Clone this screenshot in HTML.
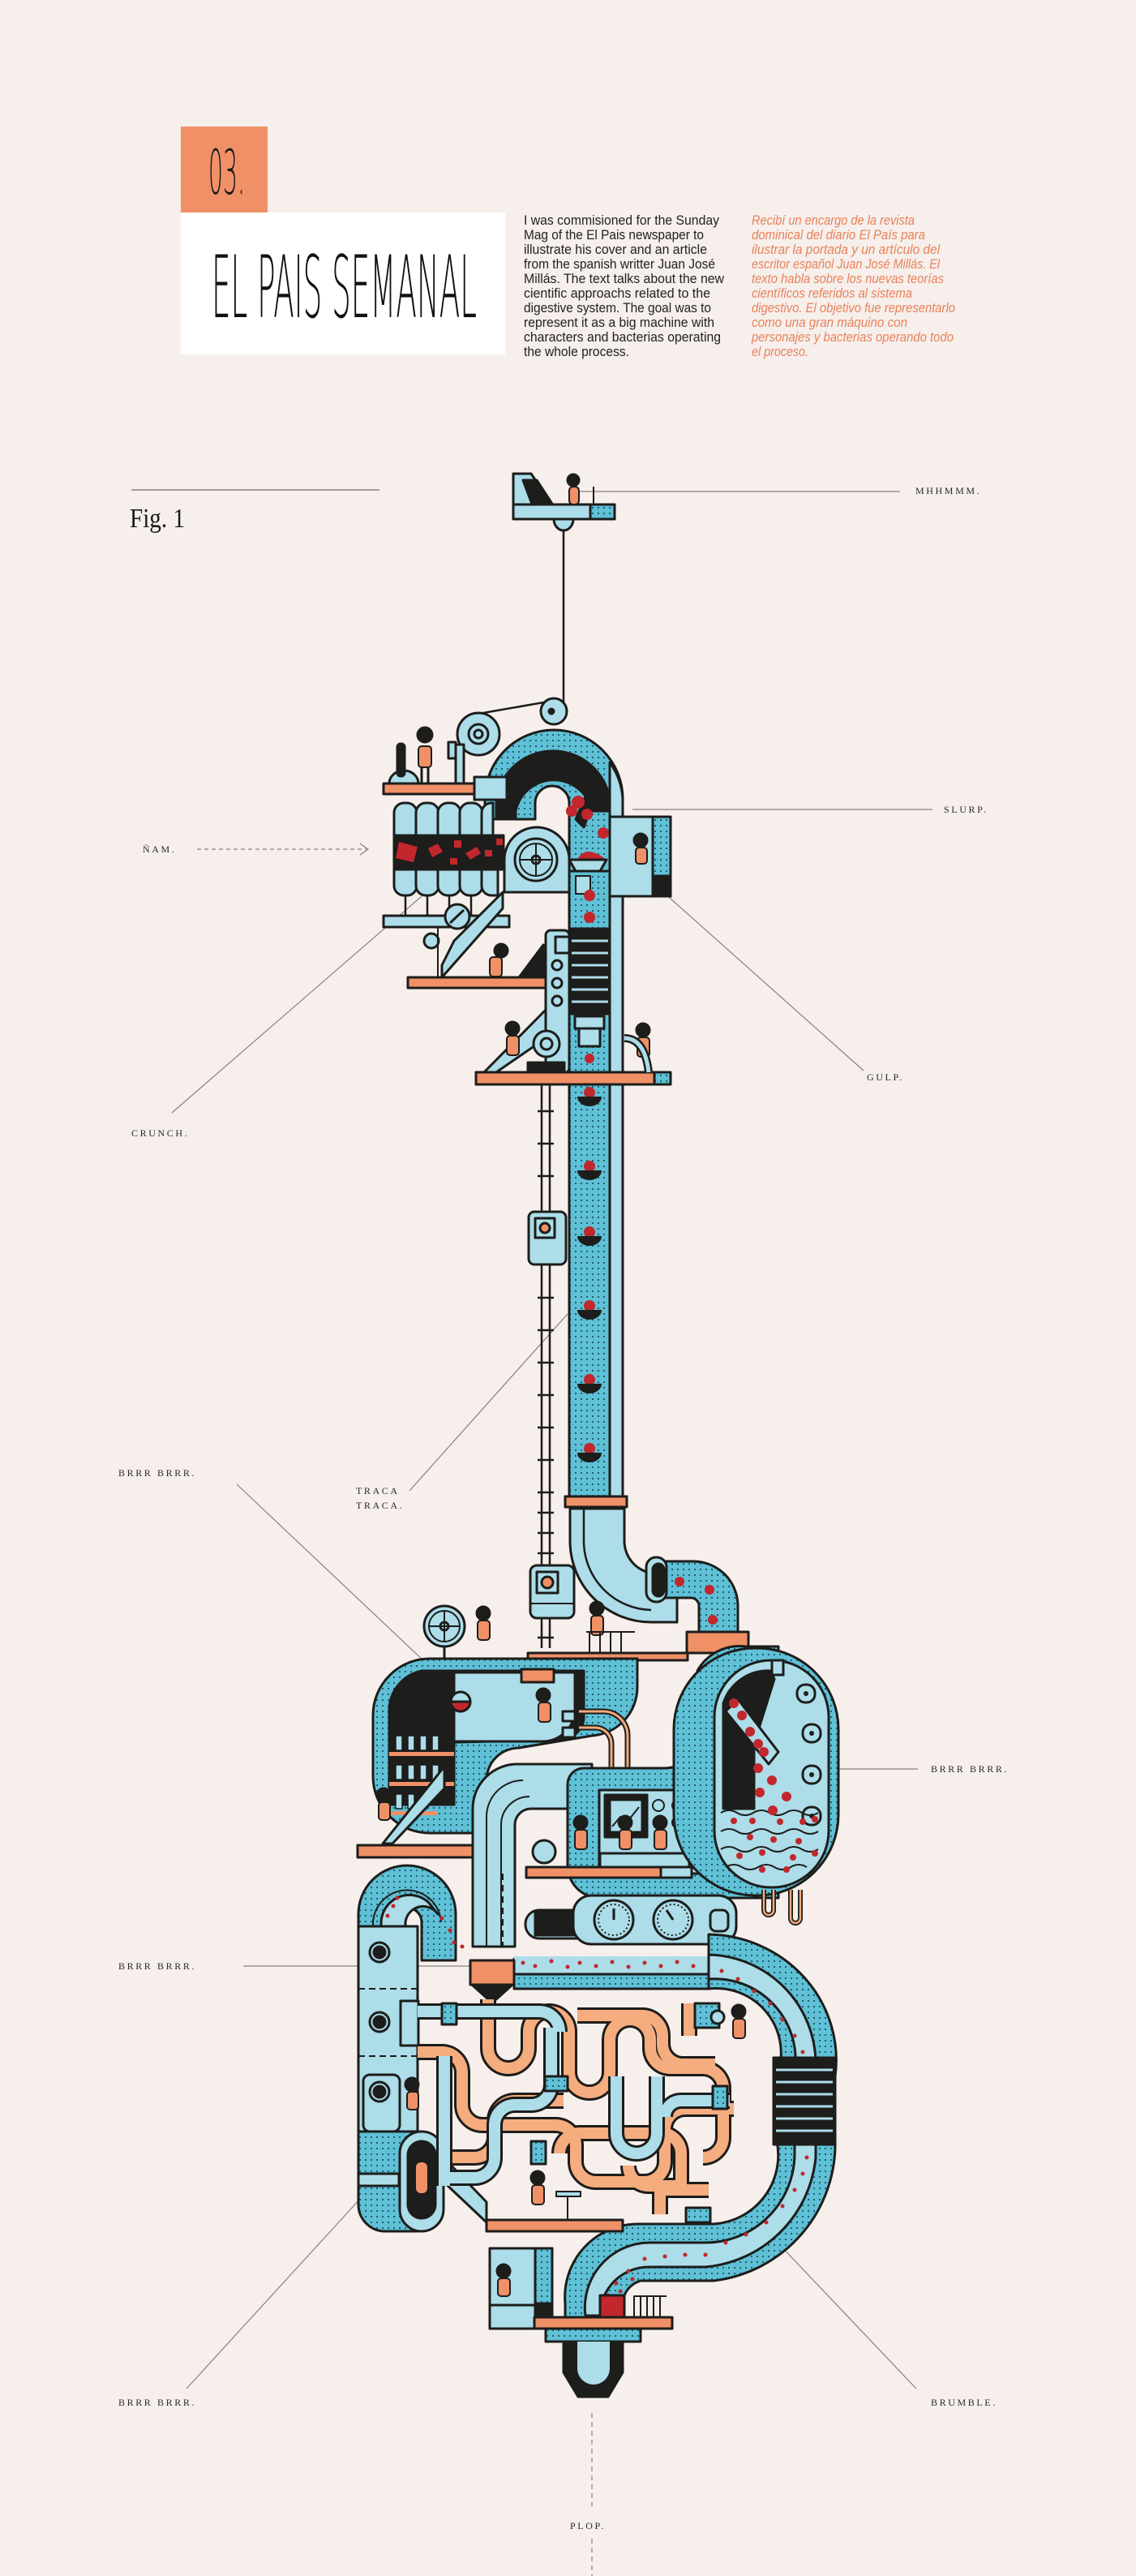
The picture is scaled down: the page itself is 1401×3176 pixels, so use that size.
<!DOCTYPE html>
<html><head><meta charset="utf-8">
<style>
html,body{margin:0;padding:0;background:#f6efeb;}
svg{display:block;}
.lbl{font-family:"Liberation Serif",serif;font-size:12px;letter-spacing:2.6px;fill:#2a2a2a;}
</style></head>
<body>
<svg width="1401" height="3176" viewBox="0 0 1401 3176" xmlns="http://www.w3.org/2000/svg">
<defs>
<pattern id="dot" width="7" height="7" patternUnits="userSpaceOnUse">
<rect width="7" height="7" fill="#5fc0d6"/><rect x="2" y="2" width="2" height="2" fill="#1f5f6e"/>
</pattern>
</defs>
<rect width="1401" height="3176" fill="#f6efeb"/>

<!-- HEADER -->
<rect x="223" y="156" width="107" height="106" fill="#f09067"/>
<text x="257" y="239" font-family="DejaVu Sans, Liberation Sans, sans-serif" font-weight="200" font-size="76" textLength="45" lengthAdjust="spacingAndGlyphs" fill="#1a1a1a">03.</text>
<rect x="223" y="262" width="400" height="175" fill="#ffffff"/>
<text x="261" y="391" font-family="DejaVu Sans, Liberation Sans, sans-serif" font-weight="200" font-size="106" textLength="327" lengthAdjust="spacingAndGlyphs" fill="#111">EL PAIS SEMANAL</text>

<g font-family="Liberation Sans, sans-serif" font-size="17" fill="#222">
<text x="646" y="277" textLength="241" lengthAdjust="spacingAndGlyphs">I was commisioned for the Sunday</text>
<text x="646" y="295" textLength="222" lengthAdjust="spacingAndGlyphs">Mag of the El Pais newspaper to</text>
<text x="646" y="313" textLength="226" lengthAdjust="spacingAndGlyphs">illustrate his cover and an article</text>
<text x="646" y="331" textLength="236" lengthAdjust="spacingAndGlyphs">from the spanish writter Juan José</text>
<text x="646" y="349" textLength="247" lengthAdjust="spacingAndGlyphs">Millás. The text talks about the new</text>
<text x="646" y="367" textLength="230" lengthAdjust="spacingAndGlyphs">cientific approachs related to the</text>
<text x="646" y="385" textLength="231" lengthAdjust="spacingAndGlyphs">digestive system. The goal was to</text>
<text x="646" y="403" textLength="235" lengthAdjust="spacingAndGlyphs">represent it as a big machine with</text>
<text x="646" y="421" textLength="243" lengthAdjust="spacingAndGlyphs">characters and bacterias operating</text>
<text x="646" y="439" textLength="130" lengthAdjust="spacingAndGlyphs">the whole process.</text>
</g>
<g font-family="Liberation Sans, sans-serif" font-size="17" font-style="italic" fill="#e8825a">
<text x="927" y="277" textLength="201" lengthAdjust="spacingAndGlyphs">Recibí un encargo de la revista</text>
<text x="927" y="295" textLength="214" lengthAdjust="spacingAndGlyphs">dominical del diario El País para</text>
<text x="927" y="313" textLength="232" lengthAdjust="spacingAndGlyphs">ilustrar la portada y un artículo del</text>
<text x="927" y="331" textLength="232" lengthAdjust="spacingAndGlyphs">escritor español Juan José Millás. El</text>
<text x="927" y="349" textLength="237" lengthAdjust="spacingAndGlyphs">texto habla sobre los nuevas teorías</text>
<text x="927" y="367" textLength="198" lengthAdjust="spacingAndGlyphs">científicos referidos al sistema</text>
<text x="927" y="385" textLength="251" lengthAdjust="spacingAndGlyphs">digestivo. El objetivo fue representarlo</text>
<text x="927" y="403" textLength="192" lengthAdjust="spacingAndGlyphs">como una gran máquino con</text>
<text x="927" y="421" textLength="249" lengthAdjust="spacingAndGlyphs">personajes y bacterias operando todo</text>
<text x="927" y="439" textLength="70" lengthAdjust="spacingAndGlyphs">el proceso.</text>
</g>

<!-- Fig 1 -->
<line x1="162" y1="604" x2="468" y2="604" stroke="#8a807b" stroke-width="1.5"/>
<text x="160" y="650" font-family="Liberation Serif, serif" font-size="34" textLength="68" lengthAdjust="spacingAndGlyphs" fill="#1a1a1a">Fig. 1</text>

<!-- label lines -->
<g stroke="#8a807b" stroke-width="1.2" fill="none">
<line x1="700" y1="606" x2="1110" y2="606"/>
<line x1="243" y1="1047" x2="452" y2="1047" stroke-dasharray="5,4"/>
<polyline points="444,1040 454,1047 444,1054"/>
<line x1="780" y1="998" x2="1150" y2="998"/>
<line x1="1065" y1="1320" x2="790" y2="1075"/>
<line x1="212" y1="1372" x2="520" y2="1105"/>
<line x1="505" y1="1838" x2="700" y2="1620"/>
<line x1="292" y1="1830" x2="525" y2="2050"/>
<line x1="1000" y1="2181" x2="1132" y2="2181"/>
<line x1="300" y1="2424" x2="605" y2="2424"/>
<line x1="230" y1="2945" x2="445" y2="2710"/>
<line x1="1130" y1="2945" x2="940" y2="2745"/>
<line x1="730" y1="2975" x2="730" y2="3090" stroke-dasharray="6,5"/>
<line x1="730" y1="3130" x2="730" y2="3176" stroke-dasharray="6,5"/>
</g>
<g class="lbl">
<text x="1129" y="609">MHHMMM.</text>
<text x="176" y="1051">ÑAM.</text>
<text x="1164" y="1002">SLURP.</text>
<text x="1069" y="1332">GULP.</text>
<text x="162" y="1401">CRUNCH.</text>
<text x="439" y="1842">TRACA</text>
<text x="439" y="1860">TRACA.</text>
<text x="146" y="1820">BRRR BRRR.</text>
<text x="1148" y="2185">BRRR BRRR.</text>
<text x="146" y="2428">BRRR BRRR.</text>
<text x="146" y="2966">BRRR BRRR.</text>
<text x="1148" y="2966">BRUMBLE.</text>
<text x="703" y="3118">PLOP.</text>
</g>

<g stroke="#1d1d1b" stroke-width="3" stroke-linejoin="round">
<!-- TOP CONSOLE -->
<line x1="695" y1="640" x2="695" y2="870" stroke-width="2.5"/>
<path d="M683 640 a12 14 0 0 0 24 0z" fill="#acdde9"/>
<polygon points="633,584 655,584 690,636 633,636" fill="#acdde9"/>
<polygon points="645,592 662,592 688,632 660,632" fill="#1d1d1b"/>
<rect x="633" y="622" width="125" height="18" fill="#acdde9"/>
<rect x="728" y="622" width="30" height="18" fill="url(#dot)"/>
<circle cx="707" cy="592" r="7" fill="#1d1d1b"/>
<rect x="702" y="600" width="12" height="22" rx="5" fill="#f09067" stroke-width="2"/>
<line x1="732" y1="600" x2="732" y2="622" stroke-width="2"/>
<line x1="590" y1="880" x2="682" y2="864" stroke-width="2.5"/>
<circle cx="683" cy="877" r="16" fill="#acdde9"/><circle cx="680" cy="877" r="3" fill="#1d1d1b"/>

<!-- TOP SECTION -->
<path d="M598 1010 L598 985 A85 85 0 0 1 768 985 L768 1120 L702 1120 L702 990 A20 20 0 0 0 660 990 L660 1010 Z" fill="url(#dot)"/>
<path d="M612 985 A71 71 0 0 1 752 985 L752 1000 L730 1000 A48 48 0 0 0 636 1000 L636 1010 L612 1010Z" fill="#1d1d1b"/>
<path d="M752 1000 L752 1110 L768 1110 L768 985 A85 85 0 0 0 752 940Z" fill="#acdde9"/>
<path d="M710 1010 L725 975 L735 980 L720 1020Z" fill="#1d1d1b"/>
<circle cx="713" cy="989" r="8" fill="#c1272d" stroke="none"/>
<circle cx="724" cy="1004" r="7" fill="#c1272d" stroke="none"/>
<circle cx="705" cy="1000" r="7" fill="#c1272d" stroke="none"/>
<circle cx="744" cy="1027" r="7" fill="#c1272d" stroke="none"/>
<path d="M712 1060 q10 -20 36 0z" fill="#c1272d" stroke="none"/>
<polygon points="702,1060 748,1060 740,1074 710,1074" fill="#acdde9"/>
<circle cx="590" cy="905" r="26" fill="#acdde9"/><circle cx="590" cy="905" r="12" fill="#acdde9"/><circle cx="590" cy="905" r="5" fill="#acdde9"/>
<rect x="562" y="918" width="10" height="50" fill="#acdde9"/>
<rect x="553" y="915" width="9" height="20" fill="#acdde9"/>
<rect x="473" y="966" width="112" height="13" fill="#f09067"/>
<path d="M480 966 a18 16 0 0 1 36 0z" fill="#acdde9"/>
<rect x="490" y="917" width="9" height="40" rx="4" fill="#1d1d1b"/>
<circle cx="524" cy="906" r="9" fill="#1d1d1b"/>
<rect x="516" y="920" width="16" height="26" rx="4" fill="#f09067" stroke-width="2"/>
<line x1="520" y1="946" x2="520" y2="966"/><line x1="528" y1="946" x2="528" y2="966"/>
<rect x="585" y="958" width="40" height="28" fill="#acdde9"/>
<g fill="#acdde9">
<path d="M486 1030 v-28 a12 12 0 0 1 12 -12 h4 a12 12 0 0 1 12 12 v28z"/>
<path d="M513 1030 v-28 a12 12 0 0 1 12 -12 h4 a12 12 0 0 1 12 12 v28z"/>
<path d="M540 1030 v-28 a12 12 0 0 1 12 -12 h4 a12 12 0 0 1 12 12 v28z"/>
<path d="M567 1030 v-28 a12 12 0 0 1 12 -12 h4 a12 12 0 0 1 12 12 v28z"/>
<path d="M594 1030 v-28 a12 12 0 0 1 12 -12 h2 v40z"/>
</g>
<rect x="486" y="1030" width="135" height="42" fill="#1d1d1b"/>
<g fill="#c1272d" stroke="none">
<polygon points="492,1038 515,1044 510,1063 488,1058"/>
<polygon points="528,1046 540,1040 546,1050 533,1057"/>
<rect x="560" y="1036" width="9" height="9"/>
<polygon points="574,1052 588,1044 593,1052 580,1060"/>
<rect x="598" y="1048" width="9" height="8"/><rect x="555" y="1058" width="9" height="8"/><rect x="612" y="1034" width="8" height="8"/>
</g>
<g fill="#acdde9">
<path d="M486 1072 v20 a12 12 0 0 0 12 12 h4 a12 12 0 0 0 12 -12 v-20z"/>
<path d="M513 1072 v20 a12 12 0 0 0 12 12 h4 a12 12 0 0 0 12 -12 v-20z"/>
<path d="M540 1072 v20 a12 12 0 0 0 12 12 h4 a12 12 0 0 0 12 -12 v-20z"/>
<path d="M567 1072 v20 a12 12 0 0 0 12 12 h4 a12 12 0 0 0 12 -12 v-20z"/>
<path d="M594 1072 v20 a12 12 0 0 0 12 12 h8 v-32z"/>
</g>
<rect x="473" y="1129" width="155" height="14" fill="#acdde9"/>
<g stroke-width="2.5"><line x1="500" y1="1104" x2="500" y2="1129"/><line x1="527" y1="1104" x2="527" y2="1129"/><line x1="554" y1="1104" x2="554" y2="1129"/><line x1="581" y1="1104" x2="581" y2="1129"/></g>
<path d="M622 1100 L622 1060 A40 40 0 0 1 702 1060 L702 1100Z" fill="#acdde9"/>
<circle cx="661" cy="1060" r="26" fill="#acdde9"/><circle cx="661" cy="1060" r="20" fill="none" stroke-width="2"/><circle cx="661" cy="1060" r="5" fill="#acdde9"/>
<line x1="641" y1="1060" x2="681" y2="1060" stroke-width="2"/><line x1="661" y1="1040" x2="661" y2="1080" stroke-width="2"/>
<rect x="752" y="1007" width="75" height="98" fill="#acdde9"/>
<rect x="805" y="1007" width="22" height="98" fill="url(#dot)"/>
<rect x="805" y="1080" width="22" height="25" fill="#1d1d1b"/>
<circle cx="790" cy="1036" r="8" fill="#1d1d1b"/><rect x="784" y="1045" width="14" height="20" rx="4" fill="#f09067" stroke-width="2"/>
<rect x="702" y="1074" width="50" height="780" fill="url(#dot)"/>
<rect x="752" y="1105" width="16" height="750" fill="#acdde9"/>
<rect x="702" y="1145" width="50" height="105" fill="#1d1d1b"/>
<g stroke="#acdde9" stroke-width="3"><line x1="705" y1="1160" x2="750" y2="1160"/><line x1="705" y1="1175" x2="750" y2="1175"/><line x1="705" y1="1190" x2="750" y2="1190"/><line x1="705" y1="1205" x2="750" y2="1205"/><line x1="705" y1="1220" x2="750" y2="1220"/><line x1="705" y1="1235" x2="750" y2="1235"/></g>
<rect x="710" y="1080" width="18" height="22" fill="#acdde9" stroke-width="2"/>
<rect x="709" y="1253" width="36" height="15" fill="#acdde9"/><rect x="714" y="1268" width="26" height="22" fill="#acdde9"/>
<circle cx="727" cy="1104" r="7" fill="#c1272d" stroke="none"/><circle cx="727" cy="1131" r="7" fill="#c1272d" stroke="none"/>
<g fill="#c1272d" stroke="none">
<circle cx="727" cy="1305" r="6"/><circle cx="727" cy="1347" r="7"/><circle cx="727" cy="1438" r="7"/><circle cx="727" cy="1519" r="7"/><circle cx="727" cy="1610" r="7"/><circle cx="727" cy="1701" r="7"/><circle cx="727" cy="1786" r="7"/>
</g>
<g fill="#1d1d1b" stroke="none">
<path d="M712 1352 a15 12 0 0 0 30 0z"/><path d="M712 1443 a15 12 0 0 0 30 0z"/><path d="M712 1524 a15 12 0 0 0 30 0z"/><path d="M712 1615 a15 12 0 0 0 30 0z"/><path d="M712 1706 a15 12 0 0 0 30 0z"/><path d="M712 1791 a15 12 0 0 0 30 0z"/>
</g>
<rect x="673" y="1147" width="29" height="176" rx="6" fill="#acdde9"/>
<circle cx="687" cy="1190" r="6" fill="none"/><circle cx="687" cy="1212" r="6" fill="none"/><circle cx="687" cy="1234" r="6" fill="none"/>
<rect x="685" y="1155" width="17" height="20" fill="#acdde9"/>
<rect x="503" y="1205" width="170" height="13" fill="#f09067"/>
<polygon points="545,1205 620,1120 620,1100 560,1160 545,1190" fill="#acdde9"/>
<circle cx="564" cy="1130" r="15" fill="#acdde9"/><line x1="555" y1="1138" x2="572" y2="1122"/>
<circle cx="532" cy="1160" r="9" fill="#acdde9"/>
<line x1="540" y1="1143" x2="540" y2="1205" stroke-width="2"/>
<polygon points="640,1205 670,1165 670,1205" fill="#1d1d1b"/>
<circle cx="618" cy="1172" r="8" fill="#1d1d1b"/><rect x="604" y="1180" width="15" height="24" rx="4" fill="#f09067" stroke-width="2"/>
<polygon points="597,1322 673,1245 673,1280 612,1322" fill="#acdde9"/>
<rect x="587" y="1322" width="220" height="15" fill="#f09067"/>
<rect x="807" y="1322" width="20" height="15" fill="url(#dot)"/>
<circle cx="674" cy="1287" r="16" fill="#acdde9"/><circle cx="674" cy="1287" r="7" fill="#acdde9"/>
<rect x="651" y="1310" width="45" height="12" fill="#1d1d1b"/>
<circle cx="632" cy="1268" r="8" fill="#1d1d1b"/><rect x="625" y="1277" width="15" height="24" rx="4" fill="#f09067" stroke-width="2"/>
<circle cx="793" cy="1270" r="8" fill="#1d1d1b"/><rect x="786" y="1279" width="15" height="24" rx="4" fill="#f09067" stroke-width="2"/>
<path d="M770 1280 q25 0 30 42" fill="none" stroke-width="10"/><path d="M770 1280 q25 0 30 42" fill="none" stroke="#acdde9" stroke-width="5"/>
<line x1="668" y1="1337" x2="668" y2="2032" stroke-width="2.5"/><line x1="678" y1="1337" x2="678" y2="2032" stroke-width="2.5"/>
<g stroke-width="2.5">
<line x1="663" y1="1370" x2="683" y2="1370"/><line x1="663" y1="1410" x2="683" y2="1410"/><line x1="663" y1="1450" x2="683" y2="1450"/><line x1="663" y1="1600" x2="683" y2="1600"/><line x1="663" y1="1640" x2="683" y2="1640"/><line x1="663" y1="1680" x2="683" y2="1680"/><line x1="663" y1="1720" x2="683" y2="1720"/><line x1="663" y1="1760" x2="683" y2="1760"/><line x1="663" y1="1800" x2="683" y2="1800"/><line x1="663" y1="1840" x2="683" y2="1840"/><line x1="663" y1="1865" x2="683" y2="1865"/><line x1="663" y1="1890" x2="683" y2="1890"/><line x1="663" y1="1915" x2="683" y2="1915"/><line x1="663" y1="2019" x2="683" y2="2019"/>
</g>
<rect x="652" y="1494" width="46" height="65" rx="7" fill="#acdde9"/><rect x="660" y="1502" width="24" height="24" fill="#acdde9"/><circle cx="672" cy="1514" r="6" fill="#f09067"/>
<rect x="654" y="1930" width="54" height="65" rx="8" fill="#acdde9"/><rect x="662" y="1938" width="26" height="26" fill="#acdde9"/><circle cx="675" cy="1951" r="7" fill="#f09067"/>
<line x1="654" y1="1977" x2="708" y2="1977" stroke-width="2"/>

<rect x="697" y="1845" width="76" height="13" fill="#f09067"/>
<path d="M703 1860 L703 1900 A100 100 0 0 0 803 2000 L835 2000 L835 1940 L810 1940 A40 40 0 0 1 770 1900 L770 1860Z" fill="#acdde9"/>
<path d="M720 1860 L720 1900 A85 85 0 0 0 803 1985" fill="none" stroke-width="2.5"/>
<path d="M800 1925 L855 1925 A55 55 0 0 1 910 1980 L910 2012 L862 2012 L862 1980 A10 10 0 0 0 852 1970 L810 1970Z" fill="url(#dot)"/>
<rect x="797" y="1920" width="25" height="55" rx="12" fill="#acdde9"/><rect x="805" y="1928" width="14" height="40" rx="7" fill="#1d1d1b"/>
<circle cx="838" cy="1950" r="6" fill="#c1272d" stroke="none"/><circle cx="875" cy="1960" r="6" fill="#c1272d" stroke="none"/><circle cx="879" cy="1997" r="6" fill="#c1272d" stroke="none"/>
<rect x="847" y="2012" width="76" height="26" fill="#f09067"/>

<!-- MIDDLE SECTION -->
<rect x="651" y="2038" width="197" height="9" fill="#f09067"/>
<circle cx="548" cy="2005" r="25" fill="#acdde9"/><circle cx="548" cy="2005" r="19" fill="none" stroke-width="2"/><circle cx="548" cy="2005" r="5" fill="#acdde9"/>
<line x1="529" y1="2005" x2="567" y2="2005" stroke-width="2"/><line x1="548" y1="1986" x2="548" y2="2024" stroke-width="2"/>
<line x1="548" y1="2030" x2="548" y2="2045" stroke-width="3"/>
<circle cx="596" cy="1989" r="8" fill="#1d1d1b"/><rect x="589" y="1998" width="15" height="24" rx="4" fill="#f09067" stroke-width="2"/>
<circle cx="736" cy="1983" r="8" fill="#1d1d1b"/><rect x="729" y="1992" width="15" height="24" rx="4" fill="#f09067" stroke-width="2"/>
<path d="M723 2012 h60 M727 2012 v26 M740 2012 v26 M753 2012 v26 M766 2012 v26" fill="none" stroke-width="2"/>

<path d="M530 2045 L786 2045 L786 2080 A60 60 0 0 1 730 2140 L640 2155 A40 40 0 0 0 600 2195 L600 2240 A20 20 0 0 1 580 2260 L530 2260 A70 70 0 0 1 460 2190 L460 2115 A70 70 0 0 1 530 2045Z" fill="url(#dot)"/>
<path d="M520 2060 L720 2060 L720 2120 A30 30 0 0 1 690 2145 L480 2150 L480 2110 A50 50 0 0 1 520 2060Z" fill="#1d1d1b"/>
<path d="M560 2062 L709 2062 L709 2110 A40 40 0 0 1 669 2147 L560 2147Z" fill="#acdde9"/>
<rect x="480" y="2115" width="80" height="110" fill="#1d1d1b"/>
<rect x="480" y="2160" width="80" height="5" fill="#f09067" stroke="none"/><rect x="480" y="2197" width="80" height="5" fill="#f09067" stroke="none"/><rect x="480" y="2233" width="60" height="5" fill="#f09067" stroke="none"/>
<g fill="#acdde9" stroke-width="1.5">
<rect x="488" y="2140" width="8" height="18"/><rect x="503" y="2140" width="8" height="18"/><rect x="518" y="2140" width="8" height="18"/><rect x="533" y="2140" width="8" height="18"/>
<rect x="488" y="2176" width="8" height="18"/><rect x="503" y="2176" width="8" height="18"/><rect x="518" y="2176" width="8" height="18"/><rect x="533" y="2176" width="8" height="18"/>
<rect x="488" y="2212" width="8" height="18"/><rect x="503" y="2212" width="8" height="18"/><rect x="518" y="2212" width="8" height="18"/>
</g>
<circle cx="568" cy="2098" r="12" fill="#acdde9"/><path d="M556 2098 a12 12 0 0 0 24 0z" fill="#c1272d"/>
<rect x="643" y="2058" width="40" height="16" fill="#f09067"/>
<circle cx="670" cy="2090" r="8" fill="#1d1d1b"/><rect x="664" y="2099" width="15" height="24" rx="4" fill="#f09067" stroke-width="2"/>
<rect x="694" y="2110" width="15" height="12" fill="#acdde9"/><rect x="694" y="2130" width="15" height="12" fill="#acdde9"/>
<polygon points="472,2273 548,2178 548,2205 484,2273" fill="#acdde9"/>
<circle cx="473" cy="2213" r="8" fill="#1d1d1b"/><rect x="467" y="2222" width="14" height="22" rx="4" fill="#f09067" stroke-width="2"/>
<rect x="441" y="2275" width="191" height="15" fill="#f09067"/>
<path d="M714 2110 h30 a30 30 0 0 1 30 30 v60" fill="none" stroke-width="7"/><path d="M714 2110 h30 a30 30 0 0 1 30 30 v60" fill="none" stroke="#f3a87a" stroke-width="3"/>
<path d="M714 2130 h20 a20 20 0 0 1 20 20 v60" fill="none" stroke-width="7"/><path d="M714 2130 h20 a20 20 0 0 1 20 20 v60" fill="none" stroke="#f3a87a" stroke-width="3"/>

<path d="M583 2400 L583 2230 A55 55 0 0 1 638 2175 L730 2175 L730 2230 L655 2230 A20 20 0 0 0 635 2250 L635 2400Z" fill="#acdde9"/>
<path d="M600 2400 v-160 a45 45 0 0 1 45 -45 M618 2400 v-150 a35 35 0 0 1 35 -35" fill="none" stroke-width="2"/>
<line x1="600" y1="2310" x2="600" y2="2400" stroke-dasharray="8,6" stroke-width="2"/><line x1="620" y1="2310" x2="620" y2="2400" stroke-dasharray="8,6" stroke-width="2"/>

<path d="M720 2180 L820 2180 A40 40 0 0 0 860 2140 L860 2060 A60 60 0 0 1 920 2030 L960 2030 L960 2340 L740 2340 A40 40 0 0 1 700 2300 L700 2200 A20 20 0 0 1 720 2180Z" fill="url(#dot)"/>
<rect x="739" y="2207" width="122" height="103" fill="#acdde9"/>
<rect x="746" y="2213" width="52" height="52" fill="#1d1d1b"/><rect x="752" y="2219" width="40" height="40" fill="#acdde9"/>
<polyline points="755,2252 765,2240 772,2248 788,2228" fill="none" stroke-width="2"/>
<circle cx="812" cy="2226" r="7" fill="none" stroke-width="2"/><circle cx="836" cy="2226" r="7" fill="none" stroke-width="2"/><circle cx="836" cy="2247" r="7" fill="none" stroke-width="2"/>
<circle cx="716" cy="2247" r="8" fill="#1d1d1b"/><rect x="709" y="2256" width="15" height="24" rx="4" fill="#f09067" stroke-width="2"/>
<circle cx="771" cy="2247" r="8" fill="#1d1d1b"/><rect x="764" y="2256" width="15" height="24" rx="4" fill="#f09067" stroke-width="2"/>
<circle cx="814" cy="2247" r="8" fill="#1d1d1b"/><rect x="807" y="2256" width="15" height="24" rx="4" fill="#f09067" stroke-width="2"/>
<polygon points="740,2285 845,2285 850,2270 850,2302 740,2302" fill="#acdde9"/>
<rect x="649" y="2302" width="166" height="13" fill="#f09067"/>
<rect x="815" y="2302" width="38" height="13" fill="#acdde9"/>
<circle cx="671" cy="2283" r="14" fill="#acdde9"/>

<rect x="831" y="2032" width="203" height="305" rx="100" fill="url(#dot)"/>
<rect x="881" y="2047" width="141" height="280" rx="70" fill="#acdde9"/>
<path d="M892 2100 A58 58 0 0 1 950 2060 L955 2070 L930 2150 L930 2230 L892 2230Z" fill="#1d1d1b"/>
<polygon points="895,2110 910,2095 960,2160 948,2175" fill="#acdde9"/>
<rect x="952" y="2047" width="14" height="18" fill="#acdde9"/>
<g fill="#acdde9"><rect x="983" y="2077" width="22" height="22" rx="10"/><rect x="990" y="2126" width="22" height="22" rx="10"/><rect x="990" y="2177" width="22" height="22" rx="10"/><rect x="990" y="2228" width="22" height="22" rx="10"/></g>
<g fill="#1d1d1b" stroke="none"><circle cx="994" cy="2088" r="3"/><circle cx="1001" cy="2137" r="3"/><circle cx="1001" cy="2188" r="3"/><circle cx="1001" cy="2239" r="3"/></g>
<path d="M889 2235 q10 -6 20 0 t20 0 t20 0 t20 0 t20 0 t20 0 M889 2258 q10 -6 20 0 t20 0 t20 0 t20 0 t20 0 t20 0 M889 2280 q10 -6 20 0 t20 0 t20 0 t20 0 t20 0 t20 0 M895 2302 q10 -6 20 0 t20 0 t20 0 t20 0 t20 0" fill="none" stroke-width="2"/>
<g fill="#c1272d" stroke="none">
<circle cx="905" cy="2100" r="6"/><circle cx="915" cy="2115" r="6"/><circle cx="925" cy="2135" r="6"/><circle cx="942" cy="2160" r="6"/><circle cx="935" cy="2150" r="6"/><circle cx="935" cy="2180" r="6"/><circle cx="952" cy="2195" r="6"/><circle cx="937" cy="2210" r="6"/><circle cx="970" cy="2215" r="6"/><circle cx="953" cy="2232" r="6"/>
<circle cx="905" cy="2245" r="4"/><circle cx="928" cy="2245" r="4"/><circle cx="962" cy="2246" r="4"/><circle cx="990" cy="2246" r="4"/><circle cx="1005" cy="2243" r="4"/>
<circle cx="925" cy="2265" r="4"/><circle cx="954" cy="2268" r="4"/><circle cx="985" cy="2270" r="4"/>
<circle cx="912" cy="2288" r="4"/><circle cx="940" cy="2284" r="4"/><circle cx="978" cy="2290" r="4"/><circle cx="1005" cy="2285" r="4"/>
<circle cx="940" cy="2305" r="4"/><circle cx="970" cy="2305" r="4"/>
</g>
<path d="M942 2330 v25 a6 6 0 0 0 12 0 v-25 M975 2330 v35 a6 6 0 0 0 12 0 v-35" fill="none" stroke-width="6"/>
<path d="M942 2330 v25 a6 6 0 0 0 12 0 v-25 M975 2330 v35 a6 6 0 0 0 12 0 v-35" fill="none" stroke="#f3a87a" stroke-width="2.5"/>

<rect x="648" y="2355" width="80" height="35" rx="17" fill="#acdde9"/>
<rect x="660" y="2358" width="80" height="28" fill="#1d1d1b"/>
<rect x="707" y="2337" width="201" height="60" rx="22" fill="#acdde9"/>
<circle cx="757" cy="2367" r="24" fill="#acdde9"/><circle cx="757" cy="2367" r="19" fill="#acdde9" stroke-dasharray="2,3" stroke-width="2"/>
<circle cx="830" cy="2367" r="24" fill="#acdde9"/><circle cx="830" cy="2367" r="19" fill="#acdde9" stroke-dasharray="2,3" stroke-width="2"/>
<line x1="757" y1="2367" x2="757" y2="2353" stroke-width="3"/><line x1="830" y1="2367" x2="822" y2="2355" stroke-width="3"/>
<rect x="876" y="2355" width="22" height="26" rx="7" fill="#acdde9"/>

<!-- BOTTOM SECTION -->
<path d="M442 2380 L442 2360 A60 60 0 0 1 562 2360 L562 2417 L520 2417 L520 2370 A18 18 0 0 0 484 2370 L484 2380 Z" fill="url(#dot)"/>
<path d="M460 2375 A42 42 0 0 1 544 2370" fill="none" stroke-width="2"/>
<path d="M470 2372 A35 35 0 0 1 528 2345 L540 2360 A22 22 0 0 0 500 2370 L500 2390 L470 2390Z" fill="#acdde9"/>
<g fill="#c1272d" stroke="none"><circle cx="485" cy="2350" r="2.5"/><circle cx="478" cy="2362" r="2.5"/><circle cx="490" cy="2340" r="2.5"/><circle cx="545" cy="2365" r="2.5"/><circle cx="555" cy="2380" r="2.5"/><circle cx="560" cy="2395" r="2.5"/><circle cx="570" cy="2400" r="2.5"/></g>
<rect x="442" y="2375" width="73" height="285" fill="#acdde9"/>
<line x1="442" y1="2452" x2="515" y2="2452" stroke-dasharray="8,5" stroke-width="2"/><line x1="442" y1="2535" x2="515" y2="2535" stroke-dasharray="8,5" stroke-width="2"/>
<circle cx="468" cy="2407" r="12" fill="#acdde9"/><circle cx="468" cy="2407" r="7" fill="#1d1d1b"/>
<circle cx="468" cy="2493" r="12" fill="#acdde9"/><circle cx="468" cy="2493" r="7" fill="#1d1d1b"/>
<rect x="448" y="2558" width="45" height="70" rx="8" fill="#acdde9"/>
<circle cx="468" cy="2579" r="12" fill="#acdde9"/><circle cx="468" cy="2579" r="7" fill="#1d1d1b"/>
<path d="M442 2628 L515 2628 L515 2751 L475 2751 A33 33 0 0 1 442 2718Z" fill="url(#dot)"/>
<rect x="442" y="2680" width="50" height="15" fill="#acdde9"/>
<rect x="493" y="2628" width="54" height="123" rx="27" fill="#acdde9"/>
<rect x="503" y="2640" width="34" height="95" rx="17" fill="#1d1d1b"/>
<rect x="512" y="2665" width="16" height="40" rx="7" fill="#f09067" stroke-width="2"/>
<rect x="494" y="2467" width="22" height="55" fill="#acdde9"/>
<circle cx="508" cy="2570" r="8" fill="#1d1d1b"/><rect x="502" y="2579" width="14" height="22" rx="4" fill="#f09067" stroke-width="2"/>
<polygon points="547,2660 600,2715 600,2740 547,2690" fill="#acdde9"/>

<rect x="634" y="2415" width="240" height="37" fill="url(#dot)"/>
<rect x="634" y="2412" width="240" height="22" fill="#acdde9" stroke="none"/>
<line x1="634" y1="2434" x2="874" y2="2434"/>
<g fill="#c1272d" stroke="none"><circle cx="645" cy="2420" r="2.5"/><circle cx="660" cy="2424" r="2.5"/><circle cx="680" cy="2418" r="2.5"/><circle cx="700" cy="2425" r="2.5"/><circle cx="715" cy="2420" r="2.5"/><circle cx="735" cy="2424" r="2.5"/><circle cx="755" cy="2419" r="2.5"/><circle cx="775" cy="2425" r="2.5"/><circle cx="795" cy="2420" r="2.5"/><circle cx="815" cy="2424" r="2.5"/><circle cx="835" cy="2419" r="2.5"/><circle cx="855" cy="2424" r="2.5"/></g>
<rect x="580" y="2417" width="54" height="30" fill="#f09067"/>
<polygon points="582,2447 632,2447 612,2465 602,2465" fill="#1d1d1b"/>

<path d="M874 2385 A160 155 0 0 1 1030 2560 L1030 2640 A170 170 0 0 1 880 2812 L790 2812 A30 30 0 0 0 768 2840 L768 2860 L697 2860 L697 2840 A90 90 0 0 1 787 2742 L880 2742 A85 85 0 0 0 958 2640 L958 2560 A80 80 0 0 0 874 2452Z" fill="url(#dot)"/>
<path d="M874 2410 A135 135 0 0 1 1006 2545 L1006 2660 A150 150 0 0 1 870 2795 L800 2795 A60 60 0 0 0 740 2855 L722 2855 A80 80 0 0 1 800 2765 L870 2765 A110 110 0 0 0 980 2655 L980 2555 A100 100 0 0 0 874 2440Z" fill="#acdde9"/>
<g fill="#c1272d" stroke="none">
<circle cx="890" cy="2430" r="2.5"/><circle cx="910" cy="2440" r="2.5"/><circle cx="930" cy="2455" r="2.5"/><circle cx="950" cy="2470" r="2.5"/><circle cx="965" cy="2490" r="2.5"/><circle cx="980" cy="2510" r="2.5"/><circle cx="990" cy="2530" r="2.5"/>
<circle cx="995" cy="2660" r="2.5"/><circle cx="990" cy="2680" r="2.5"/><circle cx="980" cy="2700" r="2.5"/><circle cx="965" cy="2720" r="2.5"/><circle cx="945" cy="2740" r="2.5"/><circle cx="920" cy="2755" r="2.5"/><circle cx="895" cy="2765" r="2.5"/><circle cx="870" cy="2780" r="2.5"/><circle cx="845" cy="2780" r="2.5"/><circle cx="820" cy="2782" r="2.5"/><circle cx="795" cy="2785" r="2.5"/><circle cx="775" cy="2800" r="2.5"/><circle cx="760" cy="2815" r="2.5"/><circle cx="750" cy="2830" r="2.5"/><circle cx="765" cy="2825" r="2.5"/><circle cx="780" cy="2810" r="2.5"/>
</g>
<rect x="740" y="2830" width="30" height="28" fill="#c1272d"/>
<rect x="954" y="2537" width="76" height="107" fill="#1d1d1b"/>
<g stroke="#acdde9" stroke-width="3"><line x1="957" y1="2552" x2="1027" y2="2552"/><line x1="957" y1="2567" x2="1027" y2="2567"/><line x1="957" y1="2582" x2="1027" y2="2582"/><line x1="957" y1="2597" x2="1027" y2="2597"/><line x1="957" y1="2612" x2="1027" y2="2612"/><line x1="957" y1="2627" x2="1027" y2="2627"/></g>

<g fill="none" stroke-linecap="butt">
<g stroke="#1d1d1b" stroke-width="20">
<path d="M515 2530 h30 a25 25 0 0 1 25 25 v40 a25 25 0 0 0 25 25 h90 a25 25 0 0 1 25 25 v20 a25 25 0 0 0 25 25 h60 a25 25 0 0 0 25 -25 v-40 a25 25 0 0 1 25 -25 h60"/>
<path d="M602 2465 v60 a25 25 0 0 0 50 0 v-20 a25 25 0 0 1 50 0 v50 a25 25 0 0 0 50 0 v-40 a25 25 0 0 1 50 0 v10 a25 25 0 0 0 25 25 h40 a25 25 0 0 1 25 25 v60 a25 25 0 0 1 -25 25"/>
<path d="M712 2485 h80 a25 25 0 0 1 25 25 v10 a25 25 0 0 0 25 25 h40"/>
<path d="M555 2660 h30 a25 25 0 0 0 25 -25 v-20 a25 25 0 0 1 25 -25 h60 M690 2655 a25 25 0 0 1 25 -25 h100 a25 25 0 0 1 25 25 v40 h-40 a25 25 0 0 1 -25 -25"/>
<path d="M850 2470 v40 M874 2700 h-60 v30"/>
</g>
<g stroke="#f5ac7e" stroke-width="14">
<path d="M515 2530 h30 a25 25 0 0 1 25 25 v40 a25 25 0 0 0 25 25 h90 a25 25 0 0 1 25 25 v20 a25 25 0 0 0 25 25 h60 a25 25 0 0 0 25 -25 v-40 a25 25 0 0 1 25 -25 h60"/>
<path d="M602 2465 v60 a25 25 0 0 0 50 0 v-20 a25 25 0 0 1 50 0 v50 a25 25 0 0 0 50 0 v-40 a25 25 0 0 1 50 0 v10 a25 25 0 0 0 25 25 h40 a25 25 0 0 1 25 25 v60 a25 25 0 0 1 -25 25"/>
<path d="M712 2485 h80 a25 25 0 0 1 25 25 v10 a25 25 0 0 0 25 25 h40"/>
<path d="M555 2660 h30 a25 25 0 0 0 25 -25 v-20 a25 25 0 0 1 25 -25 h60 M690 2655 a25 25 0 0 1 25 -25 h100 a25 25 0 0 1 25 25 v40 h-40 a25 25 0 0 1 -25 -25"/>
<path d="M850 2470 v40 M874 2700 h-60 v30"/>
</g>
<g stroke="#1d1d1b" stroke-width="20">
<path d="M515 2480 h150 a25 25 0 0 1 25 25 M680 2500 v70 a25 25 0 0 1 -25 25 h-20 a25 25 0 0 0 -25 25 v40 a25 25 0 0 1 -25 25 h-40 M548 2535 v160 M900 2590 h-60 a20 20 0 0 0 -20 20 M760 2560 v70 a25 25 0 0 0 50 0 v-70"/>
</g>
<g stroke="#acdde9" stroke-width="14">
<path d="M515 2480 h150 a25 25 0 0 1 25 25 M680 2500 v70 a25 25 0 0 1 -25 25 h-20 a25 25 0 0 0 -25 25 v40 a25 25 0 0 1 -25 25 h-40 M548 2535 v160 M900 2590 h-60 a20 20 0 0 0 -20 20 M760 2560 v70 a25 25 0 0 0 50 0 v-70"/>
</g>
</g>
<rect x="672" y="2560" width="28" height="18" fill="url(#dot)"/>
<rect x="655" y="2640" width="18" height="28" fill="url(#dot)"/>
<rect x="879" y="2572" width="18" height="28" fill="url(#dot)"/>
<rect x="857" y="2470" width="30" height="30" fill="url(#dot)"/><circle cx="885" cy="2487" r="8" fill="#acdde9"/>
<rect x="545" y="2470" width="18" height="26" fill="url(#dot)"/>
<circle cx="911" cy="2480" r="8" fill="#1d1d1b"/><rect x="904" y="2489" width="15" height="24" rx="4" fill="#f09067" stroke-width="2"/>
<circle cx="663" cy="2685" r="8" fill="#1d1d1b"/><rect x="656" y="2694" width="15" height="24" rx="4" fill="#f09067" stroke-width="2"/>
<rect x="686" y="2702" width="30" height="6" fill="#acdde9" stroke-width="2"/><line x1="700" y1="2708" x2="700" y2="2737" stroke-width="2"/>
<rect x="600" y="2737" width="168" height="14" fill="#f09067"/>
<rect x="846" y="2722" width="30" height="18" fill="url(#dot)"/>

<rect x="604" y="2772" width="77" height="99" fill="#acdde9"/>
<rect x="660" y="2772" width="21" height="99" fill="url(#dot)"/>
<rect x="660" y="2840" width="21" height="31" fill="#1d1d1b"/>
<circle cx="621" cy="2800" r="8" fill="#1d1d1b"/><rect x="614" y="2809" width="15" height="22" rx="4" fill="#f09067" stroke-width="2"/>
<line x1="604" y1="2842" x2="660" y2="2842"/>
<rect x="659" y="2857" width="170" height="14" fill="#f09067"/>
<path d="M782 2857 v-26 h40 M790 2857 v-26 M798 2857 v-26 M806 2857 v-26 M814 2857 v-26" fill="none" stroke-width="2"/>
<rect x="673" y="2871" width="117" height="16" fill="url(#dot)"/>
<path d="M695 2887 L768 2887 L768 2925 L750 2955 L713 2955 L695 2925Z" fill="#1d1d1b"/>
<path d="M712 2887 L752 2887 L752 2920 A20 20 0 0 1 712 2920Z" fill="#acdde9" stroke="none"/>
</g>
</svg>
</body></html>
